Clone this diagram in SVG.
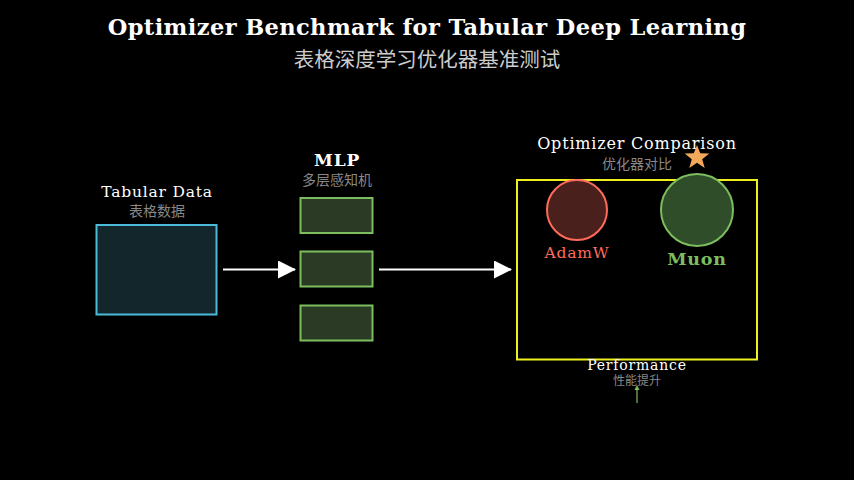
<svg xmlns="http://www.w3.org/2000/svg" width="854" height="480" viewBox="0 0 854 480">
<style>
.en{font-family:"DejaVu Serif","Liberation Serif",serif;fill:#fff;text-anchor:middle;letter-spacing:0.8px}
.zh{font-family:"Noto Sans CJK SC",sans-serif;fill:#888;text-anchor:middle}
.layer{fill:#2a3a24;stroke:#7cbd5f;stroke-width:2}
</style>
<defs>
<marker id="ah" markerWidth="18" markerHeight="18" refX="17" refY="9" orient="auto" markerUnits="userSpaceOnUse" viewBox="0 0 18 18"><path d="M0,0L18,9L0,18z" fill="#fff"/></marker>
</defs>
<rect width="854" height="480" fill="#000"/>
<text class="en" x="427" y="35" font-size="22.5" font-weight="bold" style="letter-spacing:0.4px">Optimizer Benchmark for Tabular Deep Learning</text>
<text class="zh" x="427" y="67" font-size="20.5" style="fill:#ccc">表格深度学习优化器基准测试</text>
<g id="tabular">
<rect x="96.5" y="225" width="120" height="89.5" fill="#13262c" stroke="#4bbbd8" stroke-width="2"/>
<text class="en" x="157" y="197" font-size="15.5">Tabular Data</text>
<text class="zh" x="157" y="216" font-size="14">表格数据</text>
</g>
<g id="mlp">
<rect class="layer" x="300.5" y="198" width="72" height="35"/>
<rect class="layer" x="300.5" y="251.5" width="72" height="35"/>
<rect class="layer" x="300.5" y="305.5" width="72" height="35"/>
<text class="en" x="337" y="166" font-size="17" font-weight="bold">MLP</text>
<text class="zh" x="337" y="185" font-size="14">多层感知机</text>
</g>
<g id="comparison">
<rect x="517" y="180" width="240" height="179.5" fill="none" stroke="#f0f020" stroke-width="2"/>
<text class="en" x="637" y="149" font-size="16">Optimizer Comparison</text>
<text class="zh" x="637" y="169" font-size="14">优化器对比</text>
<circle cx="577" cy="210" r="30" fill="#4a201c" stroke="#ff6b5b" stroke-width="2"/>
<text class="en" x="577" y="258" font-size="15.5" style="fill:#ff6b5b">AdamW</text>
<circle cx="697" cy="210" r="36" fill="#304d2a" stroke="#7cbd5f" stroke-width="2"/>
<text class="en" x="697" y="265" font-size="17.5" font-weight="bold" style="fill:#7cbd5f">Muon</text>
<path d="M697,145 L700.2,153.3 709.3,153.6 702.2,159.2 704.7,167.9 697,162.8 689.3,167.9 691.8,159.2 684.7,153.6 693.8,153.3z" fill="#f4a95a"/>
<text class="en" x="637" y="370" font-size="14">Performance</text>
<text class="zh" x="637" y="385" font-size="12">性能提升</text>
</g>
<g id="connectors">
<line x1="223" y1="269.5" x2="295" y2="269.5" stroke="#fff" stroke-width="2" marker-end="url(#ah)"/>
<line x1="379" y1="269.5" x2="511" y2="269.5" stroke="#fff" stroke-width="2" marker-end="url(#ah)"/>
<line x1="637" y1="403" x2="637" y2="387" stroke="#7cbd5f" stroke-width="1.2"/>
<path d="M634.5,390 L637,385 639.5,390z" fill="#7cbd5f"/>
</g>
</svg>
